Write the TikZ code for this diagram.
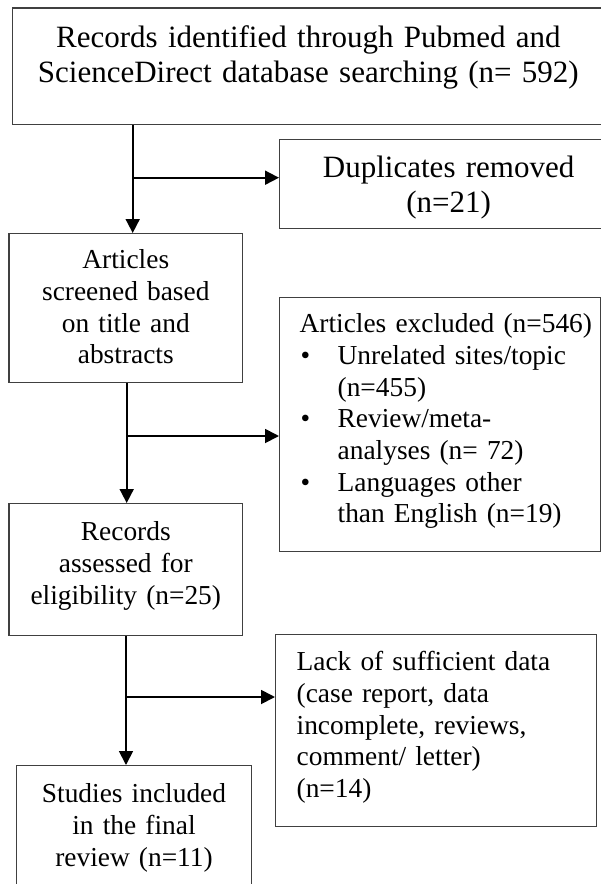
\documentclass[tikz,border=0pt]{standalone}
\usepackage{fontspec}
\setmainfont{Liberation Serif}
\usetikzlibrary{arrows.meta}
\newcommand{\exbullet}{\makebox[38pt][l]{\hspace{1pt}\textbullet}}
\newcommand{\exindent}{\hspace*{38pt}}

\begin{document}
\begin{tikzpicture}[x=1pt, y=-1pt,
	box/.style={draw=black!75, line width=1.3pt, inner sep=0pt, anchor=north west},
	bigtext/.style={font=\fontsize{31}{35.5}\selectfont},
	smalltext/.style={font=\fontsize{27.4}{31.7}\selectfont},
	lefttext/.style={align=left, execute at begin node={\leftskip=#1\relax}},
	flow/.style={-{Triangle[length=14pt, width=14pt]}, line width=1.8pt}]
		%%%%% START %%%%%
		\useasboundingbox (0, 0) rectangle (601, 884);
		
		\node[box, bigtext, align=center, text width=592pt, text height=39.4pt, text depth=77.3pt] (search) at (11.7, 7.3)
			{Records identified through Pubmed and\\ScienceDirect database searching (n= 592)};
		\node[box, bigtext, align=center, text width=338pt, text height=37.7pt, text depth=51.3pt] (dupl) at (279, 139)
			{Duplicates removed\\(n=21)};
		
		\node[box, smalltext, align=center, text width=233.7pt, text height=35pt, text depth=114pt] (screen) at (8.3, 233)
			{Articles\\screened based\\on title and\\abstracts};
		\node[box, smalltext, lefttext=20pt, text width=320.5pt, text height=35pt, text depth=219pt] (excl) at (279, 297)
			{Articles excluded (n=546)\\
			\exbullet Unrelated sites/topic\\
			\exindent (n=455)\\
			\exbullet Review/meta-\\
			\exindent analyses (n= 72)\\
			\exbullet Languages other\\
			\exindent than English (n=19)};
		
		\node[box, smalltext, align=center, text width=233.7pt, text height=37pt, text depth=95pt] (assess) at (8.3, 503)
			{Records\\assessed for\\eligibility (n=25)};
		\node[box, smalltext, lefttext=21pt, text width=321pt, text height=36pt, text depth=156pt] (lack) at (275, 634)
			{Lack of sufficient data\\(case report, data\\incomplete, reviews,\\comment/ letter)\\(n=14)};
		
		\node[box, smalltext, align=center, text width=235.3pt, text height=37pt, text depth=88pt] (incl) at (15.7, 765)
			{Studies included\\in the final\\review (n=11)};
		
		% junctions on the down arrows
		\coordinate (j1) at (132.7, 177.7);
		\coordinate (j2) at (126.7, 436);
		\coordinate (j3) at (126, 697);
		
		\draw[flow] (j1 |- search.south) -- (j1 |- screen.north);
		\draw[flow] (j1) -- (j1 -| dupl.west);
		
		\draw[flow] (j2 |- screen.south) -- (j2 |- assess.north);
		\draw[flow] (j2) -- (j2 -| excl.west);
		
		\draw[flow] (j3 |- assess.south) -- (j3 |- incl.north);
		\draw[flow] (j3) -- (j3 -| lack.west);
		
		%%%%% END %%%%%
	\end{tikzpicture}
\end{document}
